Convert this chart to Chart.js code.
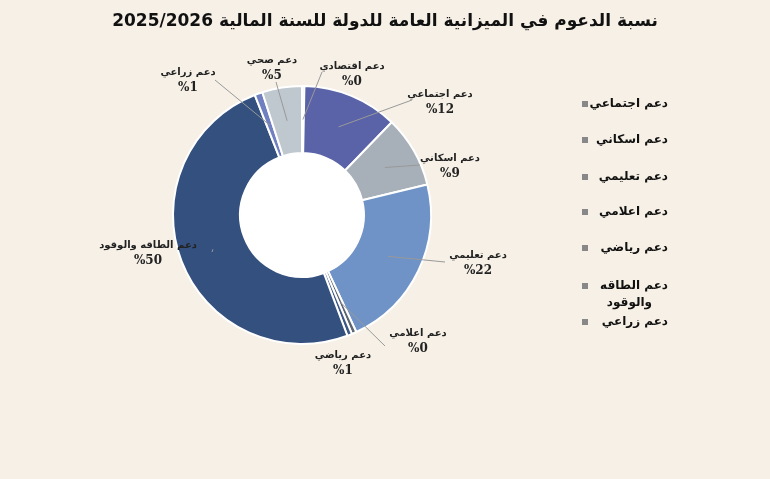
<!DOCTYPE html>
<html><head><meta charset="utf-8">
<script src="https://cdn.jsdelivr.net/npm/chart.js@4"></script>
<style>
html,body{margin:0;padding:0;background:#f6f0e6;}
#wrap{width:770px;height:479px;position:relative;}
</style></head>
<body><div id="wrap"><canvas id="myChart" width="770" height="479"></canvas></div>
<script>
const ctx = document.getElementById('myChart');

const titleText = 'نسبة الدعوم في الميزانية العامة للدولة للسنة المالية 2025/2026';
const categories = ['دعم اقتصادي', 'دعم اجتماعي', 'دعم اسكاني', 'دعم تعليمي', 'دعم اعلامي', 'دعم رياضي', 'دعم الطاقه والوقود', 'دعم زراعي', 'دعم صحي'];
const shares = [0.3, 12, 9, 22, 0.6, 0.6, 50, 1, 5];
const shareLabels = ['%0', '%12', '%9', '%22', '%0', '%1', '%50', '%1', '%5'];
const sliceColors = ['#b8c0c8', '#5a63a8', '#a7b0b9', '#6f93c6', '#5c6670', '#3e5886', '#33507f', '#6f7fc0', '#bfc7cf'];
const legendItems = ['دعم اجتماعي', 'دعم اسكاني', 'دعم تعليمي', 'دعم اعلامي', 'دعم رياضي', 'دعم الطاقه|والوقود', 'دعم زراعي'];

// text position + end of leader line for each slice label
const labelPos = [
    {x: 352, y: 66, lx: 322, ly: 72},
    {x: 440, y: 94, lx: 412, ly: 100},
    {x: 450, y: 158, lx: 420, ly: 165},
    {x: 478, y: 255, lx: 445, ly: 262},
    {x: 418, y: 333, lx: 385, ly: 346},
    {x: 343, y: 355, lx: null},
    {x: 148, y: 245, lx: 212, ly: 252},
    {x: 188, y: 72, lx: 215, ly: 80},
    {x: 272, y: 60, lx: 276, ly: 82}
];

const decor = {
    id: 'decor',
    beforeDatasetsDraw(chart) {
        const arc = chart.getDatasetMeta(0).data[0];
        const c = chart.ctx;
        c.save();
        c.fillStyle = '#ffffff';
        c.beginPath();
        c.arc(arc.x, arc.y, arc.innerRadius, 0, Math.PI * 2);
        c.fill();
        c.restore();
    },
    afterDraw(chart) {
        const c = chart.ctx;
        c.save();
        c.direction = 'rtl';
        c.fillStyle = '#111';
        c.textAlign = 'center';
        c.textBaseline = 'middle';
        c.font = 'bold 17px "DejaVu Sans"';
        c.fillText(titleText, 385, 22);

        const arcs = chart.getDatasetMeta(0).data;
        arcs.forEach((arc, i) => {
            const p = labelPos[i];
            if (p.lx !== null) {
                const a = (arc.startAngle + arc.endAngle) / 2;
                const r = (arc.innerRadius + arc.outerRadius) / 2;
                c.strokeStyle = '#999';
                c.lineWidth = 1;
                c.beginPath();
                c.moveTo(arc.x + Math.cos(a) * r, arc.y + Math.sin(a) * r);
                c.lineTo(p.lx, p.ly);
                c.stroke();
            }
            c.fillStyle = '#222';
            c.font = 'bold 10px "DejaVu Sans"';
            c.fillText(categories[i], p.x, p.y);
            c.font = 'bold 12px "DejaVu Serif"';
            c.fillText(shareLabels[i], p.x, p.y + 16);
        });

        const ys = [104, 140, 177, 212, 248, 286, 322];
        legendItems.forEach((t, i) => {
            const parts = t.split('|');
            c.fillStyle = '#888';
            c.fillRect(582, ys[i] - 3, 6, 6);
            c.fillStyle = '#111';
            c.font = 'bold 12px "DejaVu Sans"';
            c.textAlign = 'right';
            c.fillText(parts[0], 668, ys[i]);
            if (parts[1]) c.fillText(parts[1], 652, ys[i] + 17);
        });
        c.restore();
    }
};

new Chart(ctx, {
    type: 'doughnut',
    data: {
        labels: categories,
        datasets: [{
            data: shares,
            backgroundColor: sliceColors,
            borderColor: '#ffffff',
            borderWidth: 2
        }]
    },
    options: {
        responsive: false,
        animation: false,
        cutout: '48%',
        layout: {padding: {left: 172, right: 338, top: 85, bottom: 134}},
        plugins: {legend: {display: false}, tooltip: {enabled: false}}
    },
    plugins: [decor]
});
</script>
</body></html>
